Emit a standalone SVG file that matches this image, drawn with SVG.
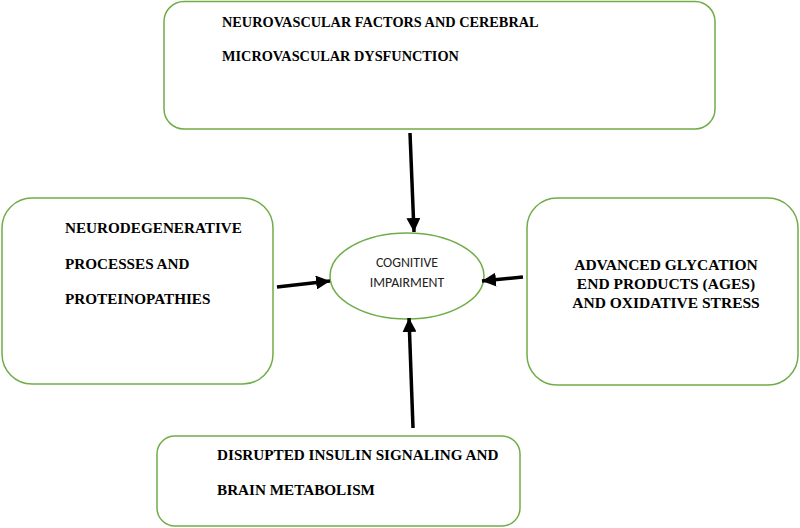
<svg xmlns="http://www.w3.org/2000/svg" width="800" height="528" viewBox="0 0 800 528">
<style>
.box{fill:#fff;stroke:#70ad47;stroke-width:1.5}
.t{font-family:"Liberation Serif","Times New Roman",serif;font-weight:bold;font-size:15.2px;fill:#000}
.c{font-family:Carlito,"Liberation Sans",Arial,sans-serif;font-size:13.8px;fill:#222}
.a{stroke:#000;stroke-width:3.5;fill:none;marker-end:url(#ah)}
</style>
<defs>
<marker id="ah" markerWidth="4" markerHeight="4" refX="4" refY="2" orient="auto" markerUnits="strokeWidth">
<path d="M0,0 L4,2 L0,4 z" fill="#000"/>
</marker>
</defs>
<rect width="800" height="528" fill="#fff"/>
<g id="top">
<rect class="box" x="164" y="1.5" width="551" height="127.5" rx="20"/>
<text class="t" x="222" y="27" style="font-size:14.3px">NEUROVASCULAR FACTORS AND CEREBRAL</text>
<text class="t" x="222" y="61" style="font-size:14.3px">MICROVASCULAR DYSFUNCTION</text>
</g>
<g id="left">
<rect class="box" x="2" y="198" width="271" height="186" rx="30"/>
<text class="t" x="65" y="233">NEURODEGENERATIVE</text>
<text class="t" x="65" y="269">PROCESSES AND</text>
<text class="t" x="65" y="304">PROTEINOPATHIES</text>
</g>
<g id="right">
<rect class="box" x="527" y="198" width="271" height="187" rx="30"/>
<text class="t" x="666" y="270" text-anchor="middle" style="font-size:15.5px">ADVANCED GLYCATION</text>
<text class="t" x="666" y="289" text-anchor="middle" style="font-size:15.5px">END PRODUCTS (AGES)</text>
<text class="t" x="666" y="308" text-anchor="middle" style="font-size:15.5px">AND OXIDATIVE STRESS</text>
</g>
<g id="bottom">
<rect class="box" x="157" y="436" width="363" height="90" rx="18"/>
<text class="t" x="217" y="460">DISRUPTED INSULIN SIGNALING AND</text>
<text class="t" x="217" y="495">BRAIN METABOLISM</text>
</g>
<g id="center">
<ellipse class="box" cx="407" cy="276" rx="77" ry="43"/>
<text class="c" x="407" y="267" text-anchor="middle">COGNITIVE</text>
<text class="c" x="407" y="287" text-anchor="middle">IMPAIRMENT</text>
</g>
<g id="connectors">
<line class="a" x1="410" y1="133" x2="414" y2="232"/>
<line class="a" x1="277" y1="287" x2="330" y2="281"/>
<line class="a" x1="523" y1="277" x2="482" y2="281"/>
<line class="a" x1="413" y1="428" x2="409" y2="318"/>
</g>
</svg>
